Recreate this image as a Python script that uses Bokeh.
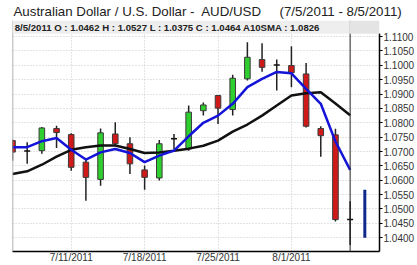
from bokeh.plotting import figure
from bokeh.models import (Range1d, FixedTicker, NumeralTickFormatter, Label, Span,
                          BoxAnnotation)
from bokeh.embed import file_html
from bokeh.resources import INLINE

# ---------------- data ----------------
dates = ["7/5/2011", "7/6/2011", "7/7/2011", "7/8/2011", "7/11/2011", "7/12/2011",
         "7/13/2011", "7/14/2011", "7/15/2011", "7/18/2011", "7/19/2011", "7/20/2011",
         "7/21/2011", "7/22/2011", "7/25/2011", "7/26/2011", "7/27/2011", "7/28/2011",
         "7/29/2011", "8/1/2011", "8/2/2011", "8/3/2011", "8/4/2011", "8/5/2011"]
opens = [1.0738, 1.0703, 1.0703, 1.0780, 1.0759, 1.0663, 1.0603, 1.0761, 1.0727, 1.0636,
         1.0608, 1.0744, 1.0709, 1.0842, 1.0895, 1.0846, 1.0953, 1.1020, 1.1001, 1.0999,
         1.0970, 1.0780, 1.0758, 1.0462]
highs = [1.0742, 1.0732, 1.0785, 1.0790, 1.0764, 1.0672, 1.0780, 1.0802, 1.0750, 1.0651,
         1.0740, 1.0761, 1.0860, 1.0871, 1.0897, 1.0967, 1.1080, 1.1077, 1.1020, 1.1066,
         1.1008, 1.0788, 1.0779, 1.0527]
lows = [1.0668, 1.0657, 1.0692, 1.0712, 1.0633, 1.0529, 1.0581, 1.0720, 1.0622, 1.0567,
        1.0599, 1.0709, 1.0703, 1.0825, 1.0796, 1.0825, 1.0947, 1.0978, 1.0912, 1.0924,
        1.0784, 1.0682, 1.0456, 1.0375]
closes = [1.0698, 1.0701, 1.0782, 1.0766, 1.0645, 1.0610, 1.0765, 1.0727, 1.0657, 1.0610,
          1.0727, 1.0744, 1.0837, 1.0862, 1.0851, 1.0955, 1.1028, 1.0993, 1.1001, 1.0974,
          1.0788, 1.0755, 1.0463, 1.0464]
sma_short = [1.0715, 1.0715, 1.0736, 1.0747, 1.0706, 1.0672, 1.0697, 1.0709, 1.0695, 1.0663,
             1.0686, 1.0703, 1.0753, 1.0800, 1.0825, 1.0866, 1.0924, 1.0953, 1.0977, 1.0972,
             1.0918, 1.0866, 1.0735, 1.0636]
sma10 = [1.0622, 1.0631, 1.0654, 1.0682, 1.0706, 1.0715, 1.0721, 1.0721, 1.0709, 1.0695,
         1.0697, 1.0703, 1.0710, 1.0720, 1.0738, 1.0769, 1.0794, 1.0825, 1.0860, 1.0895,
         1.0903, 1.0906, 1.0867, 1.0826]
proj_index = [24]
proj_low = [1.0400]
proj_high = [1.0567]

x_tick_dates = ["7/11/2011", "7/18/2011", "7/25/2011", "8/1/2011"]
y_ticks = [1.0400, 1.0450, 1.0500, 1.0550, 1.0600, 1.0650, 1.0700, 1.0750,
           1.0800, 1.0850, 1.0900, 1.0950, 1.1000, 1.1050, 1.1100]

NB = "\u00a0"
title_text = ("Australian Dollar / U.S. Dollar -" + NB + " AUD/USD" + NB * 4 + " "
              + "(7/5/2011 - 8/5/2011)")
info_text = "8/5/2011 O : 1.0462 H : 1.0527 L : 1.0375 C : 1.0464 A10SMA : 1.0826"

# ---------------- layout constants (price space) ----------------
Y_BOT = 1.0352      # bottom of plotting frame
PLOT_TOP = 1.1110   # top of candle area (below info bar)
Y_TOP = 1.1156      # top of frame = top of info bar
INFO_Y = 1.1133

# ---------------- derived ----------------
idx = list(range(len(dates)))
last = len(dates) - 1
doji_eps = 0.0005
body_x, body_top, body_bot, body_col = [], [], [], []
doji_x, doji_y = [], []
for i, (o, c) in enumerate(zip(opens, closes)):
    if abs(c - o) < doji_eps:
        doji_x.append(i)
        doji_y.append((o + c) / 2)
    else:
        body_x.append(i)
        body_top.append(max(o, c))
        body_bot.append(min(o, c))
        body_col.append("#2fcf2f" if c > o else "#d01a1a")

FONT = "Liberation Sans"

p = figure(width=417, height=265, output_backend="svg", toolbar_location=None,
           x_range=Range1d(0, 25), y_range=Range1d(Y_BOT, Y_TOP),
           y_axis_location="right", min_border_left=12, min_border_right=33,
           min_border_top=20, min_border_bottom=14)
p.background_fill_color = "white"
p.border_fill_color = "white"
p.outline_line_color = None

p.title.text = title_text
p.title.text_font = FONT
p.title.text_font_size = "13.3px"
p.title.text_font_style = "normal"
p.title.text_color = "#222222"
p.title.align = "left"
p.title.offset = 1
p.title.standoff = 3

# axes
p.xaxis.ticker = FixedTicker(ticks=[dates.index(d) for d in x_tick_dates])
p.xaxis.major_label_overrides = {dates.index(d): d for d in x_tick_dates}
p.xaxis.major_label_text_font = FONT
p.xaxis.major_label_text_font_size = "10px"
p.xaxis.major_label_text_color = "#333333"
p.xaxis.major_label_standoff = 0
p.xaxis.major_tick_out = 0
p.xaxis.major_tick_in = 0
p.xaxis.minor_tick_out = 0
p.xaxis.axis_line_color = "black"
p.xaxis.axis_line_width = 1.5

p.yaxis.ticker = FixedTicker(ticks=y_ticks)
p.yaxis.formatter = NumeralTickFormatter(format="0.0000")
p.yaxis.bounds = (Y_BOT, PLOT_TOP)
p.yaxis.major_label_text_font = FONT
p.yaxis.major_label_text_font_size = "10px"
p.yaxis.major_label_text_color = "#333333"
p.yaxis.major_label_standoff = 1
p.yaxis.major_tick_out = 3
p.yaxis.major_tick_in = 0
p.yaxis.minor_tick_out = 0
p.yaxis.minor_tick_in = 0
p.yaxis.axis_line_color = "black"
p.yaxis.axis_line_width = 1.5

p.xgrid.grid_line_color = "#c8c8c8"
p.xgrid.grid_line_dash = "1 2"
p.ygrid.grid_line_color = "#c8c8c8"
p.ygrid.grid_line_dash = "1 2"

# left frame edge and current-bar vertical line
p.add_layout(Span(location=0, dimension="height", line_color="#9a9a9a", line_width=1.5))
p.add_layout(Span(location=last, dimension="height", line_color="#222222", line_width=1))

# candles
p.segment(x0=idx, y0=lows, x1=idx, y1=highs, line_color="#222222", line_width=1.5)
p.vbar(x=body_x, width=0.38, top=body_top, bottom=body_bot, fill_color=body_col,
       line_color="#3a3a3a", line_width=1)
p.scatter(x=doji_x, y=doji_y, marker="dash", size=6, line_color="#111111", line_width=1.5)

# moving averages
p.line(idx, sma10, line_color="#111111", line_width=2.5)
p.line(idx, sma_short, line_color="#1414d8", line_width=2.5)

# projected range bar
p.segment(x0=proj_index, y0=proj_low, x1=proj_index, y1=proj_high,
          line_color="#102a8c", line_width=3)

# info bar
p.add_layout(BoxAnnotation(left=0, right=last - 0.05, bottom=PLOT_TOP, top=Y_TOP,
                           fill_color="#eeeeee", fill_alpha=1, line_color=None))
p.add_layout(BoxAnnotation(left=last - 0.05, right=25, bottom=PLOT_TOP, top=Y_TOP,
                           fill_color="#e4e4e4", fill_alpha=1, line_color=None))
p.add_layout(Label(x=0.15, y=INFO_Y, text=info_text, text_font=FONT,
                   text_font_size="9.6px", text_font_style="bold", text_color="#222222",
                   text_baseline="middle"))

open("out.html", "w").write(file_html(p, INLINE))
